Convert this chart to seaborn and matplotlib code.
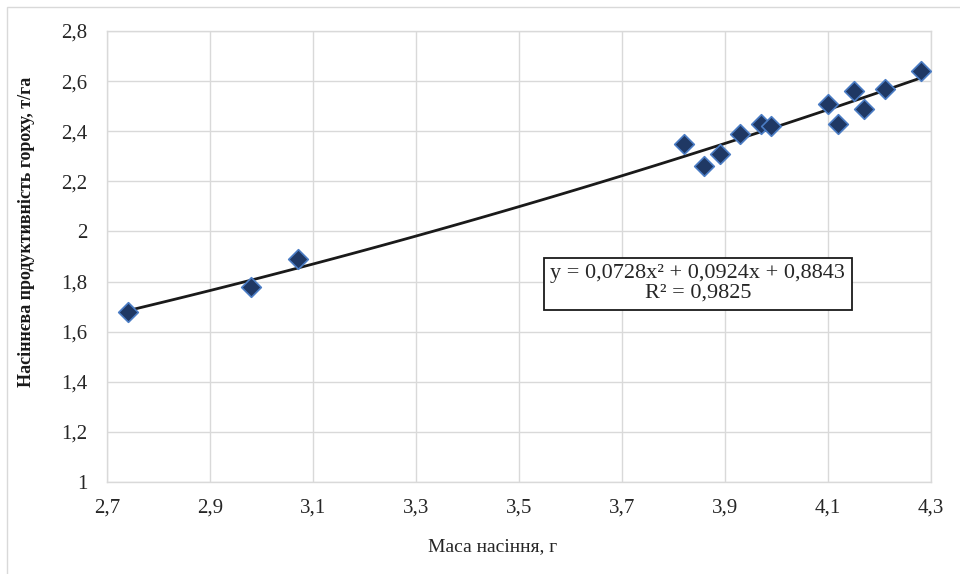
import numpy as np
import pandas as pd
import matplotlib
matplotlib.use('Agg')
import matplotlib.pyplot as plt
import matplotlib.patches as patches
from matplotlib.ticker import FuncFormatter
import seaborn as sns


# Data
seed_mass = [2.74, 2.98, 3.07, 3.82, 3.86, 3.89, 3.93, 3.97, 3.99,
             4.10, 4.12, 4.15, 4.17, 4.21, 4.28]
seed_yield = [1.68, 1.78, 1.89, 2.35, 2.26, 2.31, 2.39, 2.43, 2.42,
              2.51, 2.43, 2.56, 2.49, 2.57, 2.64]

x_ticks = [2.7, 2.9, 3.1, 3.3, 3.5, 3.7, 3.9, 4.1, 4.3]
y_ticks = [1, 1.2, 1.4, 1.6, 1.8, 2, 2.2, 2.4, 2.6, 2.8]

equation_text = 'y = 0,0728x\u00b2 + 0,0924x + 0,8843\nR\u00b2 = 0,9825'
x_title = 'Маса насіння, г'
y_title = 'Насіннєва продуктивність гороху, т/га'

df = pd.DataFrame({'mass': seed_mass, 'yield': seed_yield})

# Set up plotting aesthetics
sns.set_style('whitegrid', {'grid.color': '#D9D9D9', 'axes.edgecolor': '#D9D9D9'})
plt.rcParams['font.family'] = ['Liberation Serif', 'DejaVu Serif']

fig = plt.figure(figsize=(9.6, 5.74), dpi=100)
ax = fig.add_axes([107 / 960, 1 - 482 / 574, 824 / 960, 451 / 574])

# quadratic trend line, then the points on top
sns.regplot(data=df, x='mass', y='yield', order=2, ci=None, scatter=False,
            line_kws={'color': '#1a1a1a', 'lw': 2.0}, ax=ax)
sns.scatterplot(data=df, x='mass', y='yield', marker='D', s=100,
                color='#1f3864', edgecolor='#4a7cc4', linewidth=1.2,
                zorder=5, ax=ax)

ax.set_xlim(2.7, 4.3)
ax.set_ylim(1, 2.8)
ax.set_xticks(x_ticks)
ax.set_yticks(y_ticks)

comma = FuncFormatter(lambda v, pos: f'{v:g}'.replace('.', ','))
ax.xaxis.set_major_formatter(comma)
ax.yaxis.set_major_formatter(comma)
ax.tick_params(axis='x', length=0, pad=12, labelsize=15, labelcolor='#262626')
ax.tick_params(axis='y', length=0, pad=14, labelsize=15, labelcolor='#262626')

ax.grid(True, color='#D9D9D9', lw=1)
for sp in ax.spines.values():
    sp.set_color('#D9D9D9')
    sp.set_linewidth(1)

ax.set_xlabel(x_title, fontsize=14, color='#262626')
ax.set_ylabel(y_title, fontsize=13, fontweight='bold', color='#1a1a1a')
ax.xaxis.set_label_coords((493 - 107) / 824, (482 - 538) / 451)
ax.yaxis.set_label_coords((35 - 107) / 824, (482 - 232) / 451)

ax.text(0.717, 0.44, equation_text, transform=ax.transAxes,
        ha='center', va='center', fontsize=16, color='#262626',
        linespacing=1.05, zorder=6,
        bbox=dict(boxstyle='square,pad=0.3', fc='white', ec='#1a1a1a', lw=1.3))

# outer chart frame
fig.patches.append(patches.Rectangle((7 / 960, -0.1), 2, 1 - 7 / 574 + 0.1,
                                     transform=fig.transFigure, fill=False,
                                     edgecolor='#D9D9D9', lw=1))

fig.savefig('out.png', dpi=100)
